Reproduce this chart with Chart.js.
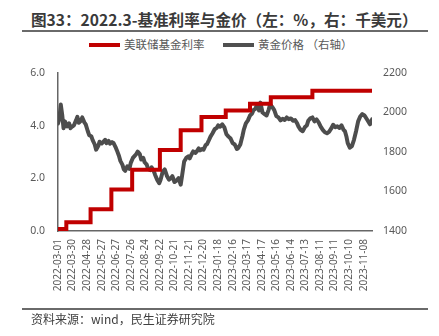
<!DOCTYPE html>
<html>
<head>
<meta charset="utf-8">
<script src="https://cdn.jsdelivr.net/npm/chart.js@4"></script>
<style>
  body { margin: 0; width: 439px; height: 336px; background: #fff; position: relative; overflow: hidden;
         font-family: "Noto Sans CJK SC", "Noto Sans", sans-serif; }
  #chart { position: absolute; left: 0; top: 0; }
  .title { position: absolute; left: 31px; top: 7px; white-space: nowrap; font-size: 15.6px; font-weight: bold; color: #3a3a3a; line-height: 24px; }
  .rule { position: absolute; left: 22px; width: 406px; height: 0; border-top: 2px solid #6a6a6a; }
  .legend { position: absolute; top: 36px; font-size: 11.5px; color: #595959; line-height: 16px; white-space: nowrap; }
  .legend span.sw { display: inline-block; width: 31px; height: 4px; vertical-align: middle; margin-right: 4px; position: relative; top: -1px; }
  .source { position: absolute; left: 31px; top: 311px; font-size: 12px; color: #404040; line-height: 16px; white-space: nowrap; }
</style>
</head>
<body>
<div class="title">图33：2022.3-基准利率与金价（左：%，右：千美元）</div>
<div class="rule" style="top:30px"></div>
<div class="legend" style="left:89px"><span class="sw" style="background:#c00000"></span>美联储基金利率</div>
<div class="legend" style="left:223px"><span class="sw" style="background:#505050"></span>黄金价格 （右轴）</div>
<canvas id="chart" width="439" height="336"></canvas>
<div class="rule" style="top:308px"></div>
<div class="source">资料来源：wind，民生证券研究院</div>
<script>
// x positions are trading-day counts from 2022-03-01 (weekdays)
const tickLabels = [
  "2022-03-01", "2022-03-30", "2022-04-28", "2022-05-27", "2022-06-27", "2022-07-26",
  "2022-08-24", "2022-09-22", "2022-10-21", "2022-11-21", "2022-12-20", "2023-01-18",
  "2023-02-16", "2023-03-17", "2023-04-17", "2023-05-16", "2023-06-14", "2023-07-13",
  "2023-08-11", "2023-09-11", "2023-10-10", "2023-11-08",
];
const lastDay = 453;

// fed funds effective rate, by change day
const rateDay = [0, 12, 47, 77, 107, 147, 177, 207, 242, 277, 307, 367, 453];
const rateValue = [0.08, 0.33, 0.83, 1.58, 2.33, 3.08, 3.83, 4.33, 4.58, 4.83, 5.08, 5.33, 5.33];

// gold price (USD/oz)
const goldDay = [
  0, 2, 4, 6, 8, 10, 13, 16, 18, 20, 23, 26, 28, 30, 33, 35, 38, 40, 43, 45, 48, 50, 53, 55,
  58, 60, 63, 65, 68, 70, 73, 75, 78, 80, 83, 85, 88, 90, 93, 95, 97, 100, 103, 105, 108, 110,
  113, 115, 118, 120, 123, 125, 128, 130, 133, 135, 138, 140, 143, 146, 148, 151, 154, 157,
  160, 163, 165, 168, 171, 174, 177, 179, 182, 185, 188, 190, 193, 195, 198, 200, 203, 205,
  208, 210, 213, 215, 218, 220, 223, 226, 229, 231, 234, 237, 240, 243, 246, 249, 252, 255,
  258, 260, 263, 266, 268, 271, 274, 277, 280, 282, 285, 287, 290, 292, 295, 298, 301, 304,
  306, 309, 312, 315, 318, 321, 324, 327, 330, 333, 336, 339, 342, 345, 347, 350, 353, 356,
  359, 361, 364, 367, 370, 373, 376, 379, 382, 385, 388, 391, 394, 397, 400, 403, 406, 409,
  412, 414, 416, 418, 421, 424, 427, 430, 433, 436, 439, 442, 444, 447, 450, 453,
];
const goldPrice = [
  1945, 1970, 2040, 1990, 1920, 1955, 1930, 1945, 1920, 1928, 1935, 1960, 1978, 1948, 1958,
  1975, 1950, 1940, 1905, 1885, 1880, 1860, 1838, 1812, 1830, 1852, 1843, 1850, 1862, 1845,
  1856, 1842, 1850, 1846, 1825, 1808, 1780, 1755, 1735, 1712, 1705, 1728, 1715, 1745, 1770,
  1778, 1790, 1802, 1790, 1762, 1770, 1748, 1736, 1715, 1708, 1722, 1705, 1685, 1660, 1642,
  1660, 1700, 1712, 1680, 1660, 1668, 1678, 1648, 1655, 1668, 1635, 1680, 1752, 1770, 1778,
  1768, 1790, 1803, 1795, 1802, 1818, 1808, 1815, 1812, 1835, 1840, 1862, 1878, 1895, 1915,
  1922, 1935, 1928, 1940, 1925, 1890, 1878, 1868, 1845, 1838, 1815, 1820, 1838, 1880, 1912,
  1945, 1960, 1985, 1995, 2012, 2020, 2038, 2010, 2050, 2000, 1992, 1985, 2015, 2042, 2028,
  2012, 1982, 1975, 1960, 1968, 1962, 1975, 1966, 1970, 1958, 1962, 1945, 1928, 1912, 1905,
  1925, 1935, 1958, 1970, 1975, 1955, 1965, 1950, 1928, 1912, 1900, 1895, 1902, 1918, 1938,
  1925, 1930, 1922, 1935, 1912, 1905, 1880, 1845, 1822, 1830, 1862, 1905, 1955, 1980, 1992,
  1985, 1975, 1958, 1940, 1965, 1980, 2005,
];

const toPoints = (xs, ys) => xs.map((x, i) => ({ x: x, y: ys[i] }));

const axisColor = "#666666";
const tickFont = { family: "'Noto Sans', sans-serif", size: 10.5 };

new Chart(document.getElementById("chart"), {
  type: "line",
  data: {
    datasets: [
      {
        label: "美联储基金利率",
        data: toPoints(rateDay, rateValue),
        yAxisID: "y",
        borderColor: "#c00000",
        borderWidth: 4,
        stepped: true,
        pointRadius: 0,
        fill: false,
      },
      {
        label: "黄金价格 （右轴）",
        data: toPoints(goldDay, goldPrice),
        yAxisID: "y1",
        borderColor: "#4d4d4d",
        borderWidth: 4,
        borderJoinStyle: "round",
        borderCapStyle: "round",
        tension: 0,
        pointRadius: 0,
        fill: false,
      },
    ],
  },
  options: {
    responsive: false,
    animation: false,
    layout: { padding: { top: 73, left: 0, right: 0, bottom: 0 } },
    plugins: { legend: { display: false }, tooltip: { enabled: false } },
    scales: {
      x: {
        type: "linear",
        min: 0,
        max: lastDay,
        grid: { display: false, drawTicks: false },
        border: { display: true, color: axisColor, width: 1.5 },
        ticks: {
          stepSize: 21,
          autoSkip: false,
          includeBounds: false,
          minRotation: 90,
          maxRotation: 90,
          padding: 8,
          color: "#595959",
          font: { family: "'Noto Sans', sans-serif", size: 10 },
          callback: (v) => (v % 21 === 0 && tickLabels[v / 21]) || "",
        },
        afterFit: (s) => { s.height = 336 - 231; },
      },
      y: {
        position: "left",
        min: 0,
        max: 6,
        grid: { display: false, drawTicks: false },
        border: { display: true, color: axisColor, width: 1.5 },
        ticks: {
          stepSize: 2,
          padding: 13,
          color: "#595959",
          font: tickFont,
          callback: (v) => v.toFixed(1),
        },
        afterFit: (s) => { s.width = 58; },
      },
      y1: {
        position: "right",
        min: 1400,
        max: 2200,
        grid: { display: false, drawTicks: false },
        border: { display: false },
        ticks: {
          stepSize: 200,
          padding: 11,
          color: "#595959",
          font: tickFont,
          callback: (v) => String(v),
        },
        afterFit: (s) => { s.width = 67; },
      },
    },
  },
});
</script>
</body>
</html>
